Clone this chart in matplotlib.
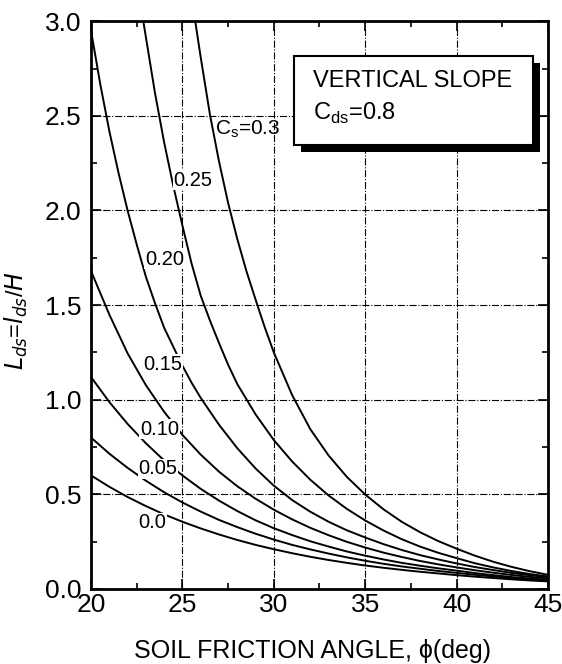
import matplotlib
matplotlib.use('Agg')
import matplotlib.pyplot as plt
from matplotlib.patches import Rectangle
from matplotlib.ticker import MultipleLocator, FormatStrFormatter

plt.rcParams['font.family'] = ['Liberation Sans', 'DejaVu Sans']

# curves: friction angle (deg) vs L_ds
phi_30 = [25.7, 26.0, 26.5, 27.0, 27.5, 28.0, 28.5, 29.0, 29.5, 30.0, 31.0, 32.0, 33.0, 34.0, 35.0,
          36.0, 37.0, 38.0, 39.0, 40.0, 41.0, 42.0, 43.0, 44.0, 45.0]
lds_30 = [3.0, 2.81, 2.51, 2.26, 2.04, 1.85, 1.68, 1.53, 1.384, 1.25, 1.025, 0.844, 0.705, 0.592, 0.499,
          0.421, 0.355, 0.30, 0.253, 0.213, 0.176, 0.144, 0.117, 0.094, 0.075]

phi_25 = [22.86, 23.5, 24.0, 24.5, 25.0, 25.5, 26.0, 26.5, 27.0, 27.5, 28.0, 29.0, 30.0, 31.0, 32.0, 33.0,
          34.0, 35.0, 36.0, 37.0, 38.0, 39.0, 40.0, 41.0, 42.0, 43.0, 44.0, 45.0]
lds_25 = [3.0, 2.62, 2.36, 2.13, 1.92, 1.72, 1.55, 1.42, 1.30, 1.185, 1.083, 0.923, 0.787, 0.674, 0.577, 0.494,
          0.423, 0.362, 0.309, 0.263, 0.224, 0.191, 0.163, 0.136, 0.114, 0.095, 0.079, 0.066]

phi_20 = [20.0, 20.5, 21.0, 21.5, 22.0, 22.5, 23.0, 23.5, 24.0, 24.5, 25.0, 25.5, 26.0, 27.0, 28.0, 29.0,
          30.0, 31.0, 32.0, 33.0, 34.0, 35.0, 36.0, 37.0, 38.0, 39.0, 40.0, 41.0, 42.0, 43.0, 44.0, 45.0]
lds_20 = [2.95, 2.67, 2.42, 2.20, 2.00, 1.82, 1.65, 1.51, 1.38, 1.28, 1.18, 1.09, 1.01, 0.868, 0.744, 0.637,
          0.546, 0.47, 0.408, 0.355, 0.31, 0.272, 0.237, 0.206, 0.179, 0.156, 0.135, 0.116, 0.10, 0.085, 0.073, 0.062]

phi = [20, 21, 22, 23, 24, 25, 26, 27, 28, 29, 30, 31, 32, 33, 34, 35, 36, 37, 38, 39, 40, 41, 42, 43, 44, 45]
lds_15 = [1.68, 1.45, 1.245, 1.077, 0.936, 0.814, 0.71, 0.62, 0.543, 0.477, 0.419, 0.368, 0.323, 0.284, 0.249,
          0.219, 0.192, 0.169, 0.148, 0.13, 0.114, 0.099, 0.086, 0.074, 0.064, 0.055]
lds_10 = [1.12, 0.988, 0.872, 0.77, 0.679, 0.60, 0.529, 0.467, 0.412, 0.363, 0.321, 0.285, 0.252, 0.224, 0.198,
          0.176, 0.156, 0.138, 0.123, 0.109, 0.097, 0.084, 0.073, 0.063, 0.055, 0.048]
lds_05 = [0.80, 0.715, 0.64, 0.572, 0.511, 0.457, 0.409, 0.365, 0.327, 0.292, 0.261, 0.233, 0.209, 0.187, 0.167,
          0.149, 0.133, 0.119, 0.107, 0.095, 0.085, 0.075, 0.066, 0.058, 0.051, 0.044]
lds_00 = [0.60, 0.54, 0.486, 0.438, 0.394, 0.355, 0.32, 0.288, 0.259, 0.233, 0.21, 0.189, 0.17, 0.153, 0.138,
          0.124, 0.112, 0.101, 0.091, 0.082, 0.073, 0.065, 0.058, 0.051, 0.045, 0.04]

curves = [(phi_30, lds_30), (phi_25, lds_25), (phi_20, lds_20), (phi, lds_15),
          (phi, lds_10), (phi, lds_05), (phi, lds_00)]

# curve labels: text, x (left), y (centre)
labels = ['0.25', '0.20', '0.15', '0.10', '0.05', '0.0']
label_x = [24.5, 22.95, 22.86, 22.68, 22.59, 22.59]
label_y = [2.16, 1.743, 1.188, 0.845, 0.634, 0.349]

fig = plt.figure(figsize=(5.62, 6.64), dpi=100)
ax = fig.add_axes([0.162, 0.113, 0.813, 0.855])

for x, y in curves:
    ax.plot(x, y, color='black', lw=1.4, solid_capstyle='round')

ax.set_xlim(20, 45)
ax.set_ylim(0, 3.0)

ax.xaxis.set_major_locator(MultipleLocator(5))
ax.xaxis.set_minor_locator(MultipleLocator(2.5))
ax.yaxis.set_major_locator(MultipleLocator(0.5))
ax.yaxis.set_minor_locator(MultipleLocator(0.25))
ax.yaxis.set_major_formatter(FormatStrFormatter('%.1f'))

ax.tick_params(which='both', direction='in', top=True, right=True, width=1.2)
ax.tick_params(which='major', length=7, labelsize=19)
ax.tick_params(which='minor', length=4)
ax.tick_params(axis='y', pad=7)
ax.tick_params(axis='x', pad=3)

for s in ax.spines.values():
    s.set_linewidth(2)

ax.grid(True, which='major', color='black', lw=0.8, ls='-.')

ax.set_xlabel('SOIL FRICTION ANGLE, \u03d5(deg)', fontsize=18)
ax.xaxis.set_label_coords(0.485, -0.088)
ax.set_ylabel(r'$L_{ds}$=$l_{ds}$/$H$', fontsize=17)
ax.yaxis.set_label_coords(-0.133, 0.472)

ax.text(26.78, 2.43, r'C$_\mathregular{s}$=0.3', fontsize=15, va='center', ha='left')
for t, x, y in zip(labels, label_x, label_y):
    ax.text(x, y, t, fontsize=14.5, va='center', ha='left',
            bbox=dict(facecolor='white', edgecolor='none', pad=0.5))

# title box with drop shadow
ax.add_patch(Rectangle((31.5, 2.31), 13.04, 0.47, facecolor='black', edgecolor='none', zorder=4))
ax.add_patch(Rectangle((31.12, 2.345), 13.04, 0.47, facecolor='white', edgecolor='black', lw=1.5, zorder=5))
ax.text(32.13, 2.653, 'VERTICAL SLOPE', fontsize=17, ha='left', va='baseline', zorder=6)
ax.text(32.13, 2.477, r'C$_\mathregular{ds}$=0.8', fontsize=17, ha='left', va='baseline', zorder=6)

plt.savefig('out.png', dpi=100)
plt.close('all')
